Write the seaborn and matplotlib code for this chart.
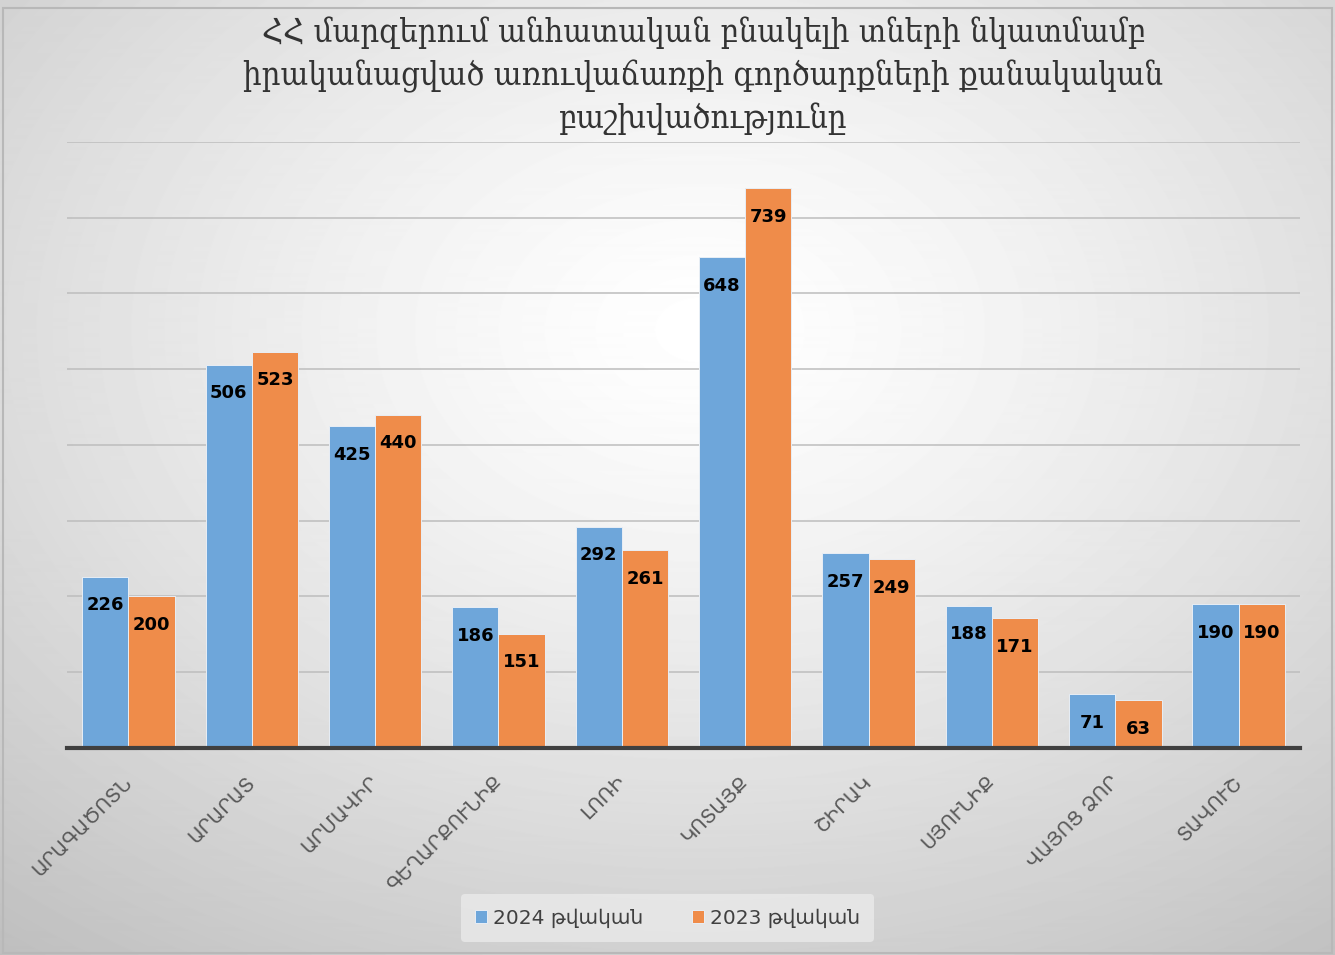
import numpy as np
import pandas as pd
import matplotlib
matplotlib.use("Agg")
import matplotlib.pyplot as plt
import seaborn as sns
from matplotlib.patches import Rectangle

regions = ["ԱՐԱԳԱԾՈՏՆ", "ԱՐԱՐԱՏ", "ԱՐՄԱՎԻՐ", "ԳԵՂԱՐՔՈՒՆԻՔ", "ԼՈՌԻ",
           "ԿՈՏԱՅՔ", "ՇԻՐԱԿ", "ՍՅՈՒՆԻՔ", "ՎԱՅՈՑ ՁՈՐ", "ՏԱՎՈՒՇ"]
values_2024 = [226, 506, 425, 186, 292, 648, 257, 188, 71, 190]
values_2023 = [200, 523, 440, 151, 261, 739, 249, 171, 63, 190]
series_names = ["2024 թվական", "2023 թվական"]
title = ("ՀՀ մարզերում անհատական բնակելի տների նկատմամբ\n"
         "իրականացված առուվաճառքի գործարքների քանակական\n"
         "բաշխվածությունը")

df = pd.DataFrame({
    "region": regions * 2,
    "series": [series_names[0]] * len(regions) + [series_names[1]] * len(regions),
    "value": values_2024 + values_2023,
})

sns.set_theme(style="white")
plt.rcParams["font.family"] = ["DejaVu Sans"]

W, H = 1335, 955
fig = plt.figure(figsize=(W / 100, H / 100), dpi=100)

# radial gradient background
bg = fig.add_axes([0, 0, 1, 1], zorder=-10)
yy, xx = np.mgrid[0:H, 0:W]
d = np.sqrt(((xx - 700) / W) ** 2 + ((yy - 330) / H) ** 2)
val = np.clip(1 - 0.32 * d ** 1.3, 0, 1)
bg.imshow(val, cmap="gray", vmin=0, vmax=1, aspect="auto", extent=[0, 1, 0, 1])
bg.set_axis_off()
fig.patches.append(Rectangle((0.002, 0.002), 0.996, 0.99, transform=fig.transFigure,
                             fill=False, edgecolor="#b8b8b8", linewidth=1.5))

ax = fig.add_axes([0.050, 0.2168, 0.924, 0.6345])
ax.set_facecolor("none")
palette = {series_names[0]: "#6EA6DA", series_names[1]: "#EF8C4A"}
sns.barplot(data=df, x="region", y="value", hue="series", palette=palette,
            width=0.75, edgecolor="#e8eef5", linewidth=0.7, saturation=1,
            ax=ax, zorder=3)

ax.set_ylim(0, 800)
ax.set_yticks(np.arange(0, 801, 100))
ax.set_yticklabels([])
ax.tick_params(axis="y", length=0)
ax.yaxis.grid(True, color="#bdbdbd", linewidth=1.1, zorder=0)
ax.set_axisbelow(True)
ax.set_xlim(-0.5, len(regions) - 0.5)
ax.set_xlabel("")
ax.set_ylabel("")
for s in ["top", "right", "left"]:
    ax.spines[s].set_visible(False)
ax.spines["bottom"].set_color("#404040")
ax.spines["bottom"].set_linewidth(3)
ax.spines["bottom"].set_zorder(10)
ax.tick_params(axis="x", length=0, pad=22)
for lbl in ax.get_xticklabels():
    lbl.set_rotation(45)
    lbl.set_ha("right")
    lbl.set_va("center")
    lbl.set_rotation_mode("anchor")
    lbl.set_fontsize(14)
    lbl.set_color("#595959")

for cont in ax.containers:
    ax.bar_label(cont, fmt="%d", padding=-27, fontsize=13, fontweight="bold",
                 color="black", zorder=5)

sns.move_legend(ax, "center", bbox_to_anchor=(0.5, 0.0387),
                bbox_transform=fig.transFigure, ncol=2, title=None,
                frameon=True, fontsize=14.5, handlelength=0.6, handleheight=0.6,
                handletextpad=0.3, columnspacing=2.4, borderpad=0.7)
leg = ax.get_legend()
leg.get_frame().set_facecolor("#ededed")
leg.get_frame().set_edgecolor("none")
leg.get_frame().set_alpha(0.7)
for t in leg.get_texts():
    t.set_color("#404040")

fig.text(0.527, 0.9205, title, ha="center", va="center", fontsize=23.5,
         family=["DejaVu Serif", "DejaVu Sans"], fontstretch="condensed",
         color="#333333", linespacing=1.4)

fig.savefig("out.png", dpi=100)
